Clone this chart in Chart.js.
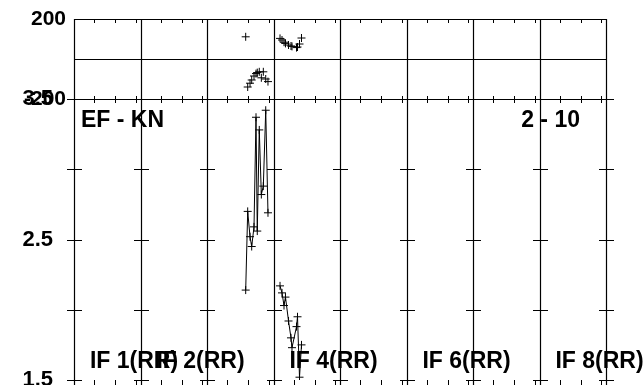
<!DOCTYPE html>
<html>
<head>
<meta charset="utf-8">
<script src="https://cdn.jsdelivr.net/npm/chart.js@4.4.1/dist/chart.umd.min.js"></script>
<style>
html, body { margin: 0; padding: 0; background: #fff; }
#wrap { position: relative; width: 643px; height: 385px; overflow: hidden; }
#wrap canvas { position: absolute; left: 0; top: -20px; }
</style>
</head>
<body>
<div id="wrap">
<canvas id="vplot" width="643" height="440"></canvas>
</div>
<script>
// IF labels along the bottom and the panel each one sits in
var ifLabels = ['IF 1(RR)', 'IF 2(RR)', 'IF 4(RR)', 'IF 6(RR)', 'IF 8(RR)'];
var ifLabelPanel = [0, 1, 3, 5, 7];
var sourceLabel = 'EF - KN';
var baselineLabel = '2 - 10';

// time inside the IF strip (strip n runs from n to n+1)
var if3Time = [2.582, 2.612, 2.647, 2.672, 2.707, 2.737, 2.756, 2.786, 2.817, 2.847, 2.883, 2.917];
var if3Amp = [2.14, 2.70, 2.52, 2.45, 2.59, 3.37, 2.56, 3.28, 2.82, 2.88, 3.42, 2.69];
var if3Phase = [111, -140, -121, -105, -85, -73, -68, -64, -94, -64, -100, -113];

var if4Time = [3.098, 3.128, 3.158, 3.180, 3.226, 3.263, 3.278, 3.346, 3.361, 3.391, 3.421];
var if4Amp = [2.17, 2.12, 2.03, 2.09, 1.92, 1.80, 1.73, 1.88, 1.95, 1.52, 1.75];
var if4Phase = [103, 95, 84, 78, 70, 65, 63, 57, 60, 75, 105];

var phaseTicks = [-200, 0, 200];
var phaseLabels = [-200, 200];
var ampTicks = [1.5, 2, 2.5, 3, 3.5];
var ampLabels = [1.5, 2.5, 3.5];

var minorSteps = [0.308, 0.617, 0.925];

// the two panels share one chart area: phase on top, amplitude below
var phasePx = 80, ampPx = 281;
var ampMin = 1.5, ampMax = 3.5, phaseMin = -200, phaseMax = 200;
var ampTop = ampMax + phasePx * (ampMax - ampMin) / ampPx;
var phaseBottom = phaseMin - ampPx * (phaseMax - phaseMin) / phasePx;

Chart.defaults.font.family = '"Liberation Sans", Arial, sans-serif';
Chart.defaults.font.weight = 'bold';
Chart.defaults.font.size = 21;
Chart.defaults.color = '#000';

function points(t, v) {
    return t.map(function(x, i) { return { x: x, y: v[i] }; });
}

var crossStyle = {
    pointStyle: 'cross',
    pointRadius: 4,
    pointBorderWidth: 1,
    pointBorderColor: '#000',
    borderColor: '#000',
    borderWidth: 1,
    fill: false
};

var vplotFrame = {
    id: 'vplotFrame',
    beforeDatasetsDraw: function(chart) {
        var ctx = chart.ctx, x = chart.scales.x, y = chart.scales.y, yp = chart.scales.yp;
        var left = Math.round(x.getPixelForValue(0));
        var right = Math.round(x.getPixelForValue(8));
        var top = Math.round(yp.getPixelForValue(phaseMax));
        var mid = Math.round(yp.getPixelForValue(phaseMin));
        var bottom = Math.round(y.getPixelForValue(ampMin));
        ctx.save();
        ctx.fillStyle = '#000';
        // phase panel horizontal lines
        phaseTicks.forEach(function(v) {
            ctx.fillRect(left, Math.round(yp.getPixelForValue(v)), right - left + 1, 1);
        });
        for (var k = 0; k <= 8; k++) {
            var vx = Math.round(x.getPixelForValue(k));
            ampTicks.forEach(function(v) {
                ctx.fillRect(vx - 7, Math.round(y.getPixelForValue(v)), 15, 1);
            });
            if (k < 8) {
                minorSteps.forEach(function(f) {
                    var px = Math.round(x.getPixelForValue(k + f));
                    ctx.fillRect(px, top, 1, 4);
                    ctx.fillRect(px, mid - 3, 1, 7);
                    ctx.fillRect(px, bottom, 1, 6);
                });
            }
        }
        // phase axis labels
        ctx.font = 'bold 21px "Liberation Sans", Arial, sans-serif';
        ctx.textAlign = 'right';
        ctx.textBaseline = 'middle';
        phaseLabels.forEach(function(v) {
            ctx.fillText(String(v), left - 8, yp.getPixelForValue(v));
        });
        ctx.restore();
    },
    afterDraw: function(chart) {
        var ctx = chart.ctx, x = chart.scales.x, y = chart.scales.y, yp = chart.scales.yp;
        var top = Math.round(yp.getPixelForValue(phaseMax));
        var bottom = Math.round(y.getPixelForValue(ampMin));
        var ampTopPx = y.getPixelForValue(ampMax);
        var left = x.getPixelForValue(0), right = x.getPixelForValue(8);
        ctx.save();
        // vertical strip lines, one per IF boundary
        ctx.globalCompositeOperation = 'source-over';
        ctx.strokeStyle = '#000';
        ctx.lineWidth = 1.2;
        for (var k = 0; k <= 8; k++) {
            var vx = Math.round(x.getPixelForValue(k)) + 0.5;
            ctx.beginPath();
            ctx.moveTo(vx, top);
            ctx.lineTo(vx, bottom + 6);
            ctx.stroke();
        }
        ctx.font = 'bold 23px "Liberation Sans", Arial, sans-serif';
        ctx.fillStyle = '#000';
        ctx.textBaseline = 'alphabetic';
        ctx.textAlign = 'left';
        ctx.fillText(sourceLabel, left + 7, ampTopPx + 28);
        ctx.textAlign = 'right';
        ctx.fillText(baselineLabel, right - 26, ampTopPx + 28);
        ctx.textAlign = 'left';
        ifLabels.forEach(function(lab, i) {
            ctx.fillText(lab, x.getPixelForValue(ifLabelPanel[i] + 0.24), bottom - 12);
        });
        ctx.restore();
    }
};

new Chart(document.getElementById('vplot'), {
    type: 'scatter',
    data: {
        datasets: [
            Object.assign({ data: points(if3Time, if3Phase), yAxisID: 'yp', showLine: false }, crossStyle),
            Object.assign({ data: points(if4Time, if4Phase), yAxisID: 'yp', showLine: false }, crossStyle),
            Object.assign({ data: points(if3Time, if3Amp), yAxisID: 'y', showLine: true }, crossStyle),
            Object.assign({ data: points(if4Time, if4Amp), yAxisID: 'y', showLine: true }, crossStyle)
        ]
    },
    options: {
        responsive: false,
        animation: false,
        events: [],
        layout: { padding: { left: 0, right: 37, top: 39, bottom: 40 } },
        plugins: { legend: { display: false }, tooltip: { enabled: false } },
        scales: {
            x: {
                type: 'linear',
                min: 0,
                max: 8,
                ticks: { display: false, stepSize: 1 },
                grid: { display: false, drawTicks: false },
                border: { display: false }
            },
            y: {
                position: 'left',
                min: ampMin,
                max: ampTop,
                afterFit: function(scale) { scale.width = 74; },
                afterBuildTicks: function(scale) {
                    scale.ticks = ampTicks.map(function(v) { return { value: v }; });
                },
                ticks: {
                    padding: 13,
                    font: { size: 22 },
                    callback: function(v) { return ampLabels.indexOf(v) >= 0 ? v.toFixed(1) : ''; }
                },
                grid: { display: false },
                border: { display: false }
            },
            yp: {
                type: 'linear',
                display: false,
                min: phaseBottom,
                max: phaseMax
            }
        }
    },
    plugins: [vplotFrame]
});
</script>
</body>
</html>
